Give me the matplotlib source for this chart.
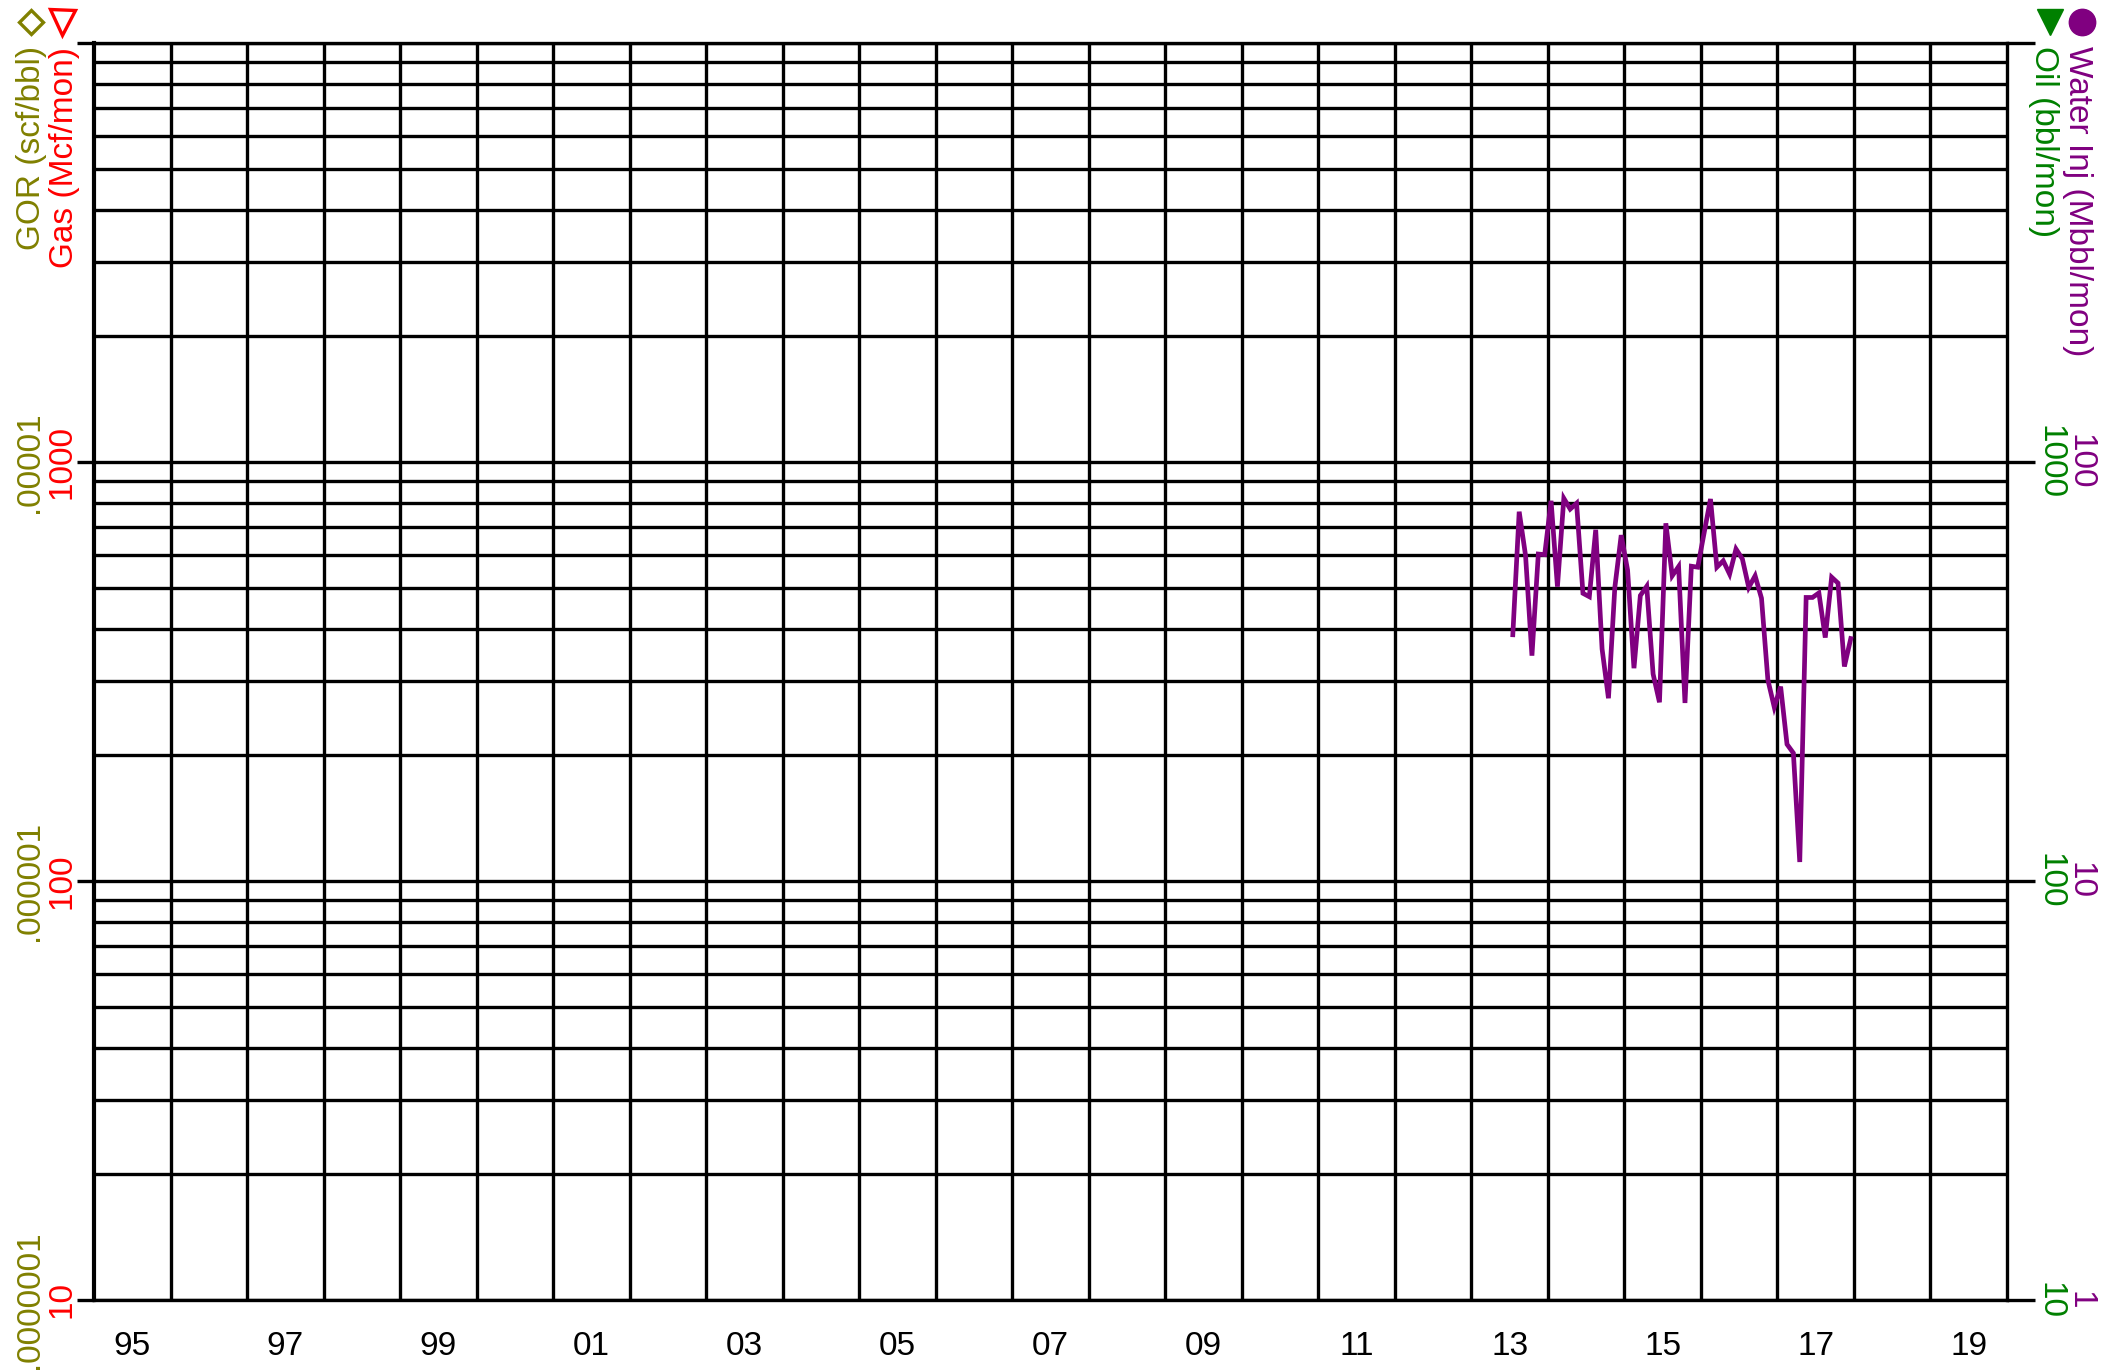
"""Monthly water injection on a log production grid (gas/GOR left, oil/water right)."""
import matplotlib
matplotlib.use("Agg")
import matplotlib.pyplot as plt
import matplotlib.transforms as mtransforms
import numpy as np
import pandas as pd

plt.rcParams["font.family"] = ["Liberation Sans", "DejaVu Sans"]

# --- data -------------------------------------------------------------
water_months = pd.period_range("2013-07", periods=54, freq="M")
water_inj = [38.7, 76.1, 59.8, 34.5, 60.3, 60.1, 80.8, 50.4, 81.9, 77.2,
             79.7, 48.6, 47.7, 68.9, 35.8, 27.3, 50.2, 66.9, 55.2, 32.2,
             48.0, 50.5, 31.2, 26.7, 71.4, 53.5, 56.3, 26.6, 56.4, 56.1,
             67.7, 81.6, 56.1, 58.1, 54.0, 62.0, 58.7, 50.2, 53.5, 47.3,
             30.2, 26.0, 29.1, 21.2, 20.2, 11.1, 47.5, 47.5, 48.7, 38.1,
             53.1, 51.4, 32.5, 37.9]   # Mbbl/mon

year_range = (1995, 2020)
gas_ticks = [10, 100, 1000]
gor_labels = [".0000001", ".000001", ".00001"]
oil_ticks = [10, 100, 1000]
water_ticks = [1, 10, 100]

OLIVE, RED, GREEN, PURPLE = "#808000", "#ff0000", "#008000", "#800080"
FS = 24
GRID_LW = 2.4

# --- figure -----------------------------------------------------------
fig = plt.figure(figsize=(21.01, 13.72), dpi=100)
ax = fig.add_axes([94 / 2101, 1 - 1300 / 1372, 1913 / 2101, 1257 / 1372])

ax.set_yscale("log")
ax.set_ylim(10, 10000)
ax.set_xlim(*year_range)

# vertical grid at every year, labels at mid-year of odd years
ax.set_xticks(np.arange(year_range[0] + 1, year_range[1]))
ax.set_xticks([y + 0.5 for y in range(year_range[0], year_range[1], 2)], minor=True)
ax.set_xticklabels([f"{y % 100:02d}" for y in range(year_range[0], year_range[1], 2)],
                   minor=True, fontsize=FS)
ax.tick_params(axis="x", which="both", length=0, labelbottom=False)
ax.tick_params(axis="x", which="minor", labelbottom=True, pad=22)
ax.xaxis.grid(True, which="major", color="black", lw=GRID_LW)
ax.yaxis.grid(True, which="both", color="black", lw=GRID_LW)

ax.tick_params(axis="y", which="major", length=12, width=GRID_LW, left=True,
               right=False, labelleft=False)
ax.tick_params(axis="y", which="minor", length=0, labelleft=False)

for sp in ax.spines.values():
    sp.set_linewidth(GRID_LW)
    sp.set_color("black")
ax.spines["left"].set_linewidth(3.0)

# right-hand (water) axis
ax2 = ax.twinx()
ax2.set_yscale("log")
ax2.set_ylim(1, 1000)
ax2.tick_params(axis="y", which="major", length=20, width=GRID_LW, labelright=False)
ax2.tick_params(axis="y", which="minor", length=0, labelright=False)
for sp in ax2.spines.values():
    sp.set_visible(False)

x_water = [p.year + (p.month - 0.5) / 12 for p in water_months]
ax2.plot(x_water, water_inj, color=PURPLE, lw=3.4, solid_joinstyle="miter")

# --- tick labels ------------------------------------------------------
left_tr = mtransforms.blended_transform_factory(ax.transAxes, ax.transData)
right_tr = mtransforms.blended_transform_factory(ax2.transAxes, ax2.transData)
for g, gor in zip(gas_ticks, gor_labels):
    ax.text(-0.0167, g, str(g), color=RED, fontsize=FS, rotation=90,
            ha="center", va="center", transform=left_tr, clip_on=False)
    ax.text(-0.0335, g, gor, color=OLIVE, fontsize=FS, rotation=90,
            ha="center", va="center", transform=left_tr, clip_on=False)
for o, w in zip(oil_ticks, water_ticks):
    ax2.text(1.0225, o / 10, str(o), color=GREEN, fontsize=FS, rotation=270,
             ha="center", va="center", transform=right_tr, clip_on=False)
    ax2.text(1.0382, w, str(w), color=PURPLE, fontsize=FS, rotation=270,
             ha="center", va="center", transform=right_tr, clip_on=False)

# --- axis titles with marker keys -------------------------------------
ax.text(-0.0329, 0.998, "GOR (scf/bbl)", color=OLIVE, fontsize=FS, rotation=90,
        ha="center", va="top", transform=ax.transAxes)
ax.text(-0.0152, 0.997, "Gas (Mcf/mon)", color=RED, fontsize=FS, rotation=90,
        ha="center", va="top", transform=ax.transAxes)
ax.text(1.0193, 0.998, "Oil (bbl/mon)", color=GREEN, fontsize=FS, rotation=270,
        ha="center", va="top", transform=ax.transAxes)
ax.text(1.0370, 0.998, "Water Inj (Mbbl/mon)", color=PURPLE, fontsize=FS, rotation=270,
        ha="center", va="top", transform=ax.transAxes)

key_y = 1 + 21 / 1257
ax.plot(-0.0329, key_y, marker="D", ms=12.5, mfc="none", mec=OLIVE, mew=2.4,
        transform=ax.transAxes, clip_on=False)
ax.plot(-0.0167, key_y, marker="v", ms=18, mfc="none", mec=RED, mew=2.4,
        transform=ax.transAxes, clip_on=False)
ax.plot(1.0225, key_y, marker="v", ms=19, color=GREEN,
        transform=ax.transAxes, clip_on=False)
ax.plot(1.0392, key_y, marker="o", ms=19, color=PURPLE,
        transform=ax.transAxes, clip_on=False)

fig.savefig("out.png", dpi=100)
